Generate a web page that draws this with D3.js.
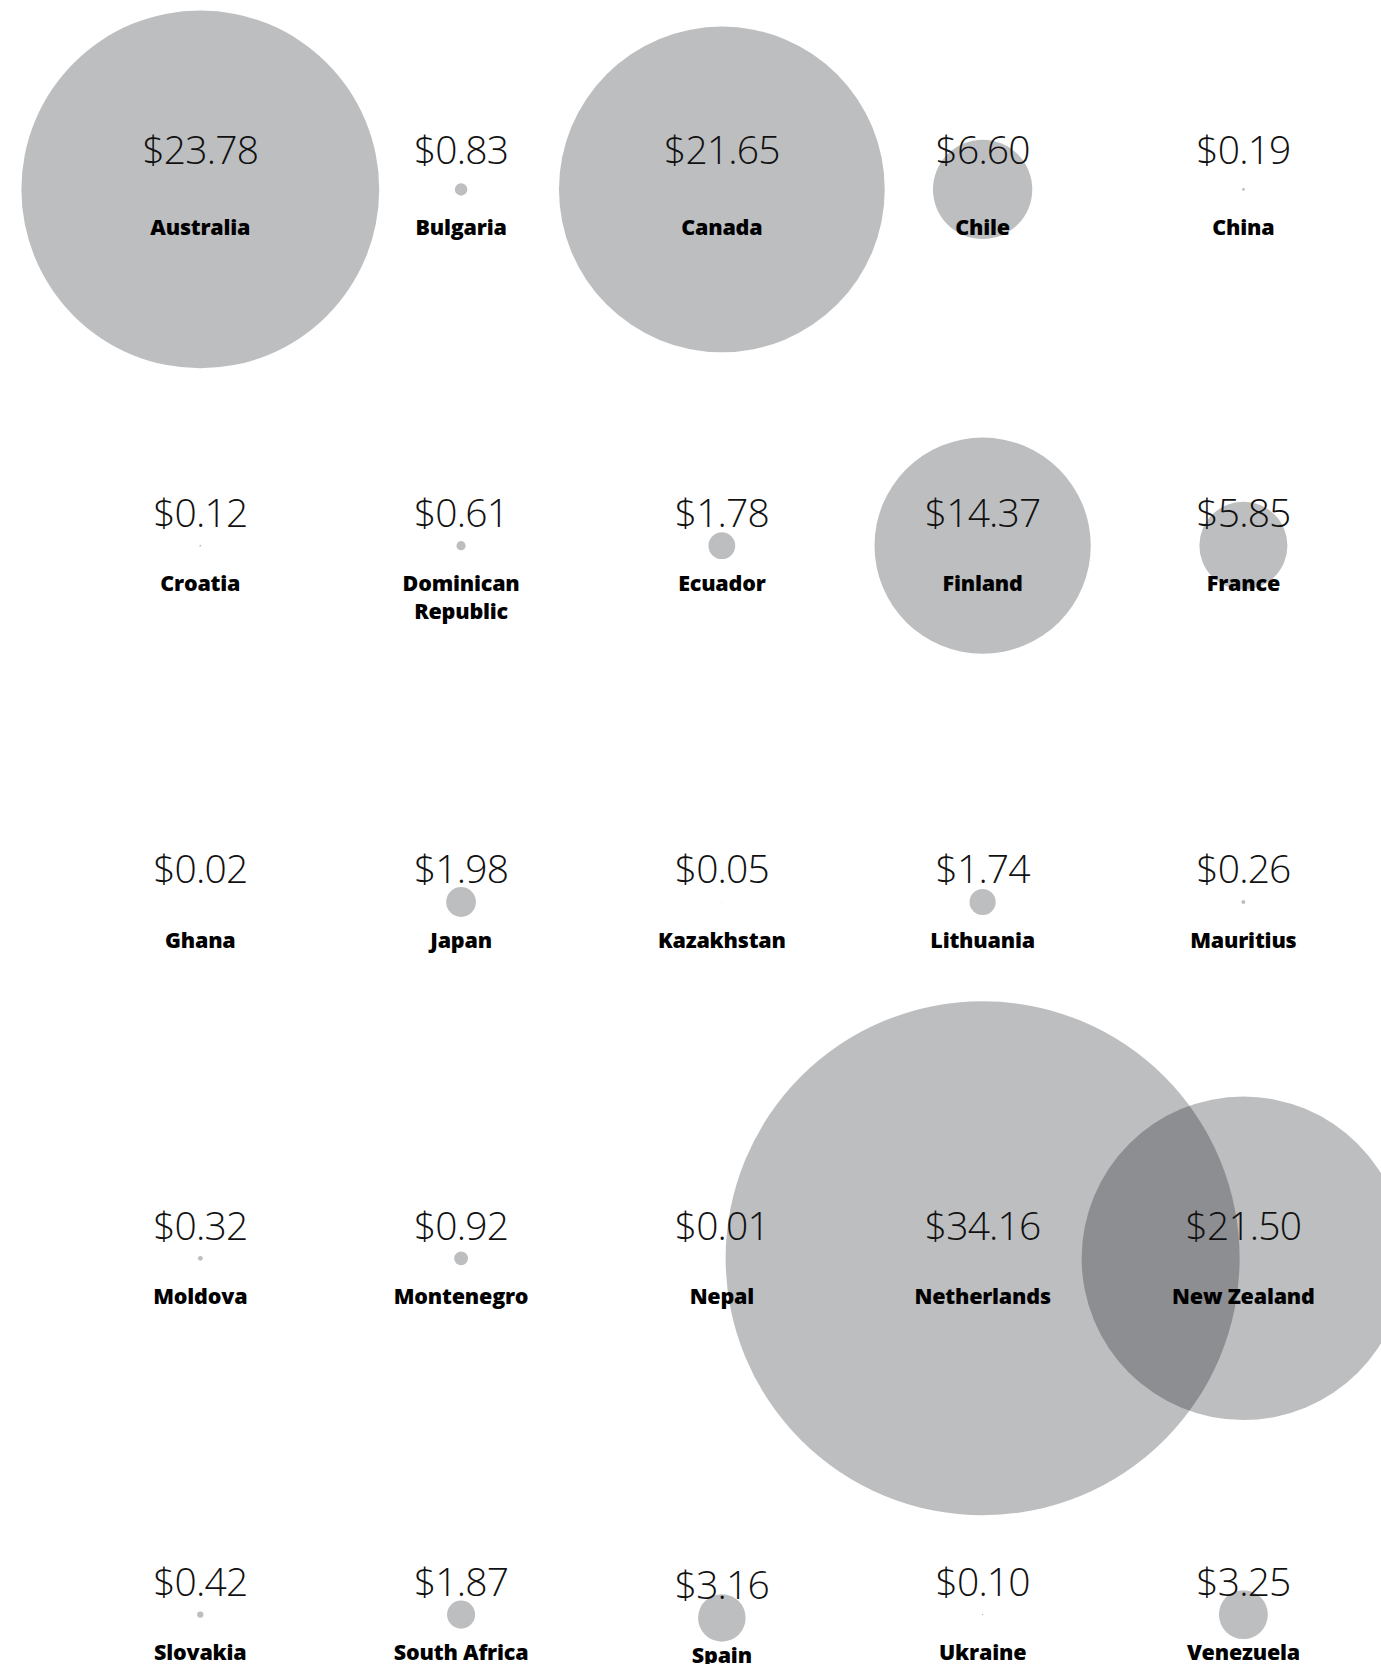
<!DOCTYPE html>
<html>
<head>
<meta charset="utf-8">
<script src="https://cdn.jsdelivr.net/npm/d3@7"></script>
<style>
  html, body { margin: 0; padding: 0; background: #fff; overflow: hidden; }
  svg { display: block; }
  .val { font-family: "Open Sans", "Noto Sans", sans-serif; font-weight: 300; font-size: 39px; letter-spacing: -0.8px; fill: #111; }
  .lab { font-family: "Open Sans", "Noto Sans", sans-serif; font-weight: 800; font-size: 21.5px; letter-spacing: -0.2px; fill: #000; }
</style>
</head>
<body>
<svg id="chart" width="1381" height="1664"></svg>
<script>
const countries = ["Australia","Bulgaria","Canada","Chile","China",
  "Croatia","Dominican Republic","Ecuador","Finland","France",
  "Ghana","Japan","Kazakhstan","Lithuania","Mauritius",
  "Moldova","Montenegro","Nepal","Netherlands","New Zealand",
  "Slovakia","South Africa","Spain","Ukraine","Venezuela"];
const values = [23.78,0.83,21.65,6.60,0.19,
  0.12,0.61,1.78,14.37,5.85,
  0.02,1.98,0.05,1.74,0.26,
  0.32,0.92,0.01,34.16,21.50,
  0.42,1.87,3.16,0.10,3.25];
const columns = [0,1,2,3,4];
const rows = [0,1,2,3,4];

const data = countries.map((c,i)=>({country:c, value:values[i], col:i%5, row:Math.floor(i/5)}));

const svg = d3.select("#chart");

const x = d3.scalePoint().domain(columns).range([200.3, 1243.4]);
const y = d3.scalePoint().domain(rows).range([189.4, 1614.6]);
const r = d3.scaleLinear().domain([0, d3.max(values)]).range([0, 257]);

// small vertical nudge seen in the original for one cell
const nudge = d => d.country === "Spain" ? 3.3 : 0;
const cy = d => y(d.row) + nudge(d);

svg.append("g").selectAll("circle").data(data).join("circle")
  .attr("cx", d => x(d.col))
  .attr("cy", cy)
  .attr("r", d => r(d.value))
  .attr("fill", "rgb(8,12,20)")
  .attr("fill-opacity", 0.265);

const fmt = d3.format("$.2f");
svg.append("g").selectAll("text").data(data).join("text")
  .attr("class","val")
  .attr("text-anchor","middle")
  .attr("x", d => x(d.col))
  .attr("y", d => cy(d) - (d.row === 0 ? 25.8 : 18.7))
  .text(d => fmt(d.value));

const labs = svg.append("g").selectAll("text").data(data).join("text")
  .attr("class","lab")
  .attr("text-anchor","middle")
  .attr("x", d => x(d.col))
  .attr("y", d => cy(d) + 45.5);
labs.each(function(d){
  const t = d3.select(this);
  const words = d.country.length > 12 ? d.country.split(" ") : [d.country];
  words.forEach((w,k)=>{
    t.append("tspan").attr("x", x(d.col)).attr("dy", k===0 ? 0 : 27.5).text(w);
  });
});
</script>
</body>
</html>
